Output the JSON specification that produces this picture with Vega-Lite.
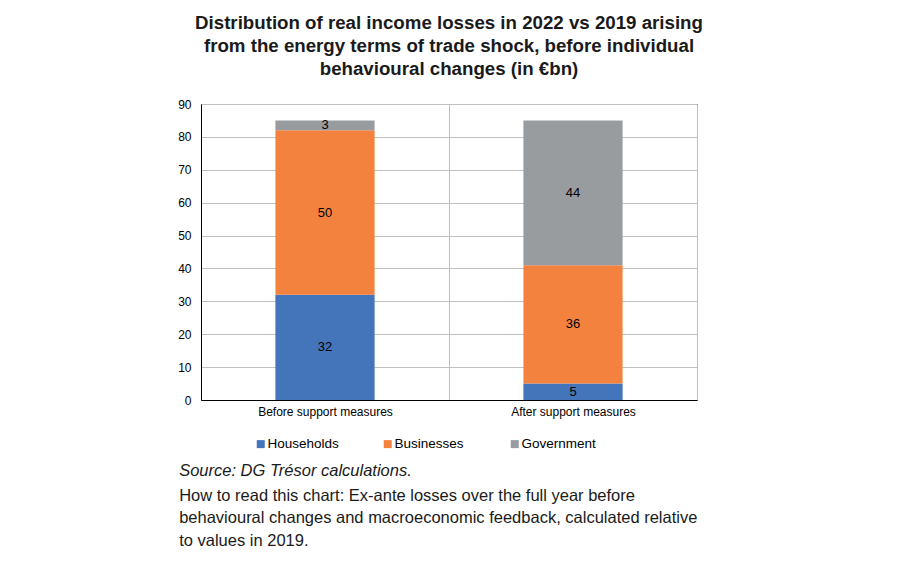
{
  "$schema": "https://vega.github.io/schema/vega-lite/v6.json",
  "padding": {"left": 177, "top": 13, "right": 5, "bottom": 5},
  "background": "white",
  "title": {
    "text": "Source: DG Trésor calculations.",
    "subtitle": ["How to read this chart: Ex-ante losses over the full year before", "behavioural changes and macroeconomic feedback, calculated relative", "to values in 2019."],
    "orient": "bottom", "anchor": "start", "frame": "bounds", "dx": 2,
    "font": "Liberation Sans", "fontStyle": "italic", "fontWeight": "normal", "fontSize": 16.5,
    "subtitleFont": "Liberation Sans", "subtitleFontSize": 16.5, "subtitleLineHeight": 22.5, "subtitlePadding": 8,
    "offset": 12, "color": "#1a1a1a", "subtitleColor": "#1a1a1a"
  },
  "config": {
    "view": {"stroke": "black", "strokeWidth": 1},
    "font": "Liberation Sans",
    "axisY": {
      "title": null, "values": [0, 10, 20, 30, 40, 50, 60, 70, 80, 90],
      "labelFontSize": 12, "labelColor": "black", "ticks": false, "labelPadding": 10,
      "domainColor": "black", "gridColor": "#BFBFBF", "labelOverlap": false
    }
  },
  "vconcat": [
    {
      "width": 496,
      "height": 296,
      "title": {
        "text": ["Distribution of real income losses in 2022 vs 2019 arising", "from the energy terms of trade shock, before individual", "behavioural changes (in €bn)"],
        "font": "Liberation Sans", "fontSize": 18.7, "fontWeight": "bold", "lineHeight": 23,
        "color": "#1a1a1a", "anchor": "middle", "frame": "group", "offset": 19
      },
      "data": {
        "values": [
          {"stage": "Before support measures", "sector": "Households", "order": 1, "value": 32},
          {"stage": "Before support measures", "sector": "Businesses", "order": 2, "value": 50},
          {"stage": "Before support measures", "sector": "Government", "order": 3, "value": 3},
          {"stage": "After support measures", "sector": "Households", "order": 1, "value": 5},
          {"stage": "After support measures", "sector": "Businesses", "order": 2, "value": 36},
          {"stage": "After support measures", "sector": "Government", "order": 3, "value": 44}
        ]
      },
      "transform": [
        {"stack": "value", "groupby": ["stage"], "sort": [{"field": "order"}], "as": ["v0", "v1"]},
        {"calculate": "(datum.v0 + datum.v1) / 2", "as": "mid"}
      ],
      "encoding": {
        "x": {
          "field": "stage", "type": "nominal",
          "sort": ["Before support measures", "After support measures"],
          "scale": {"paddingInner": 0, "paddingOuter": 0},
          "axis": {
            "title": null, "labelAngle": 0, "labelFontSize": 12, "labelColor": "black",
            "ticks": false, "labelPadding": 6, "domainColor": "black",
            "grid": true, "tickBand": "extent", "gridColor": "#BFBFBF"
          }
        }
      },
      "layer": [
        {
          "mark": {"type": "bar", "width": {"band": 0.4}},
          "encoding": {
            "y": {
              "field": "v0", "type": "quantitative",
              "scale": {"domain": [0, 90], "nice": false}
            },
            "y2": {"field": "v1"},
            "color": {
              "field": "sector", "type": "nominal",
              "scale": {"domain": ["Households", "Businesses", "Government"], "range": ["#4474BA", "#F3823E", "#999C9F"]},
              "legend": {
                "orient": "none", "legendX": 53, "legendY": 333,
                "direction": "horizontal", "title": null, "columns": 3,
                "symbolType": "square", "symbolSize": 64, "symbolStrokeWidth": 0,
                "labelFontSize": 13.5, "labelColor": "black", "labelFont": "Liberation Sans",
                "labelOffset": 0, "columnPadding": 39, "gridAlign": "all",
                "labelExpr": "datum.label == 'Businesses' ? ' Businesses' : datum.label"
              }
            }
          }
        },
        {
          "mark": {"type": "text", "fontSize": 13, "color": "black"},
          "encoding": {
            "y": {"field": "mid", "type": "quantitative"},
            "text": {"field": "value", "type": "quantitative"}
          }
        }
      ]
    }
  ]
}
